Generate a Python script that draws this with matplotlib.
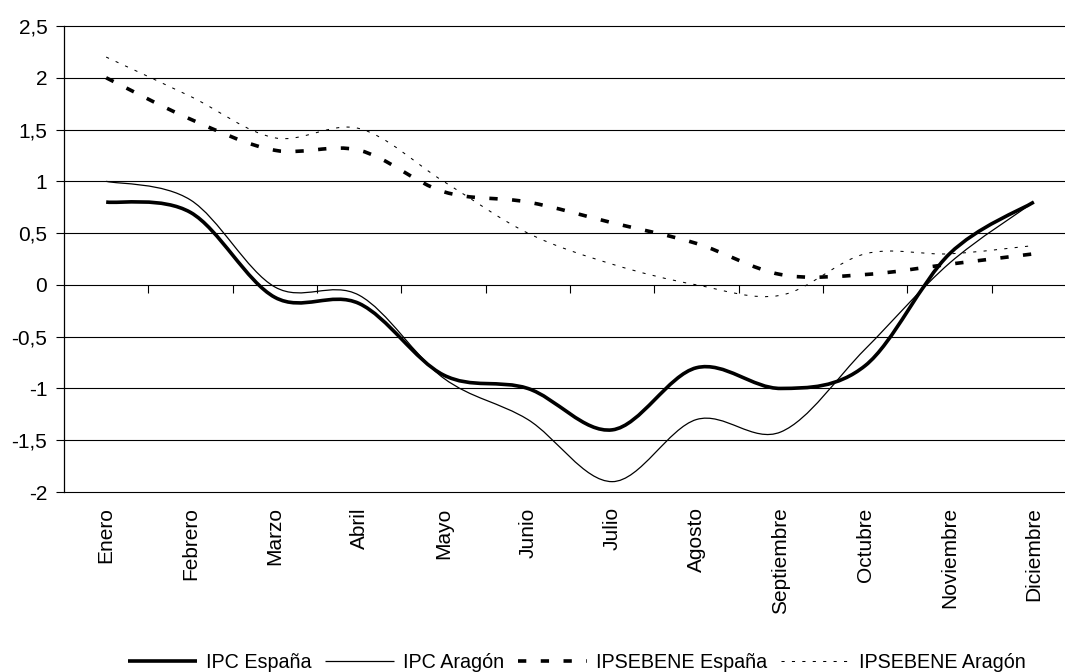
import matplotlib
matplotlib.use("Agg")
import matplotlib.pyplot as plt
from matplotlib.path import Path
from matplotlib.patches import PathPatch
from matplotlib.lines import Line2D
import matplotlib.ticker as mticker

plt.rcParams['font.family'] = ['Liberation Sans', 'DejaVu Sans']

months = ["Enero", "Febrero", "Marzo", "Abril", "Mayo", "Junio", "Julio",
          "Agosto", "Septiembre", "Octubre", "Noviembre", "Diciembre"]
ipc_espana = [0.80, 0.70, -0.12, -0.18, -0.87, -1.00, -1.40, -0.80, -1.00, -0.78, 0.30, 0.80]
ipc_aragon = [1.00, 0.82, -0.02, -0.10, -0.90, -1.30, -1.90, -1.30, -1.42, -0.62, 0.21, 0.80]
ipsebene_espana = [2.00, 1.60, 1.30, 1.30, 0.90, 0.80, 0.60, 0.40, 0.10, 0.10, 0.20, 0.30]
ipsebene_aragon = [2.20, 1.82, 1.42, 1.51, 1.00, 0.50, 0.20, 0.00, -0.10, 0.30, 0.30, 0.38]
series_names = ["IPC España", "IPC Aragón", "IPSEBENE España", "IPSEBENE Aragón"]
y_ticks = [-2, -1.5, -1, -0.5, 0, 0.5, 1, 1.5, 2, 2.5]

W, H = 1065, 672
fig = plt.figure(figsize=(W / 100, H / 100), dpi=100)
left, right, top, bottom = 64, 1076, 26, 492
ax = fig.add_axes([left / W, 1 - bottom / H, (right - left) / W, (bottom - top) / H])
ax.set_xlim(-0.5, 11.5)
ax.set_ylim(-2, 2.5)


def smooth_path(xs, ys):
    # Excel-style smoothed line: cubic Bezier segments through the data points
    n = len(xs)
    verts = [(xs[0], ys[0])]
    codes = [Path.MOVETO]
    for i in range(n - 1):
        x0, y0 = (xs[i - 1], ys[i - 1]) if i > 0 else (xs[i], ys[i])
        x1, y1 = xs[i], ys[i]
        x2, y2 = xs[i + 1], ys[i + 1]
        x3, y3 = (xs[i + 2], ys[i + 2]) if i + 2 < n else (xs[i + 1], ys[i + 1])
        c1 = (x1 + (x2 - x0) / 6, y1 + (y2 - y0) / 6)
        c2 = (x2 - (x3 - x1) / 6, y2 - (y3 - y1) / 6)
        verts += [c1, c2, (x2, y2)]
        codes += [Path.CURVE4] * 3
    return Path(verts, codes)


xs = list(range(len(months)))
styles = [
    dict(lw=2.6, ls='-'),
    dict(lw=0.9, ls='-'),
    dict(lw=2.6, ls=(0, (2.3, 4.0))),
    dict(lw=0.75, ls=(0, (3.0, 7.0))),
]
data = [ipc_espana, ipc_aragon, ipsebene_espana, ipsebene_aragon]
handles = []
for vals, st, name in zip(data, styles, series_names):
    p = PathPatch(smooth_path(xs, vals), fill=False, edgecolor='black',
                  linewidth=st['lw'], linestyle=st['ls'], capstyle='butt',
                  joinstyle='round', zorder=3)
    ax.add_patch(p)
    handles.append(Line2D([], [], color='black', lw=st['lw'], ls=st['ls'],
                          solid_capstyle='butt', dash_capstyle='butt'))

# y axis
ax.set_yticks(y_ticks)
ax.yaxis.set_major_formatter(mticker.FuncFormatter(
    lambda v, p: ('%g' % v).replace('.', ',')))
ax.tick_params(axis='y', direction='out', length=6, width=0.8, pad=6,
               labelsize=15, colors='black')
ax.grid(axis='y', color='black', lw=0.8)
for gl in ax.get_ygridlines():
    gl.set_clip_on(False)
ax.set_axisbelow(True)

# x labels at bottom
ax.set_xticks(xs)
ax.set_xticklabels(months, rotation=90, fontsize=15)
ax.tick_params(axis='x', length=0, pad=11)

for s in ['top', 'right', 'bottom']:
    ax.spines[s].set_visible(False)
ax.spines['left'].set_linewidth(0.9)

# category axis crossing at zero with boundary ticks
sec = ax.secondary_xaxis(2 / 4.5)
sec.set_xticks([i + 0.5 for i in range(len(months))])
sec.set_xticklabels([])
sec.tick_params(direction='out', length=6, width=0.8)
sec.spines['bottom'].set_visible(False)

fig.legend(handles, series_names, loc='center', bbox_to_anchor=(577 / W, 1 - 662 / H),
           ncol=4, frameon=False, handlelength=3.5, fontsize=14.2,
           handletextpad=0.45, columnspacing=0.7, borderpad=0, borderaxespad=0)

fig.savefig("out.png", dpi=100)
